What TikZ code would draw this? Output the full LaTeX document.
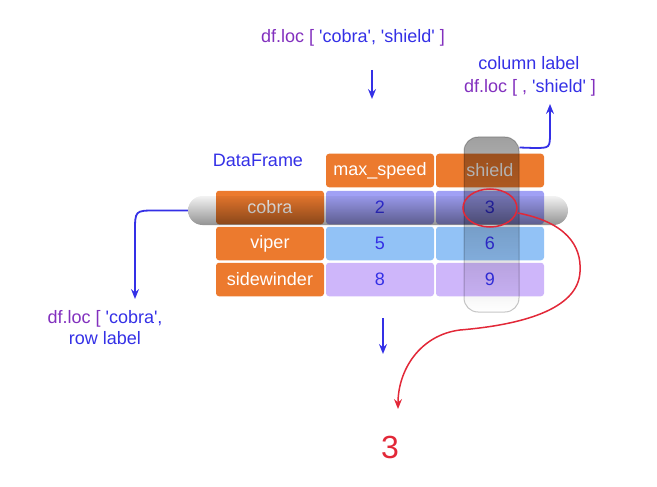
\documentclass[tikz,border=0pt]{standalone}
\usepackage{fontspec}
\setmainfont{Liberation Sans}
\usetikzlibrary{arrows.meta,shapes.geometric}

\definecolor{hdrorange}{RGB}{236,122,46}
\definecolor{cobrablue}{RGB}{160,160,245}
\definecolor{viperblue}{RGB}{146,194,246}
\definecolor{sidepurple}{RGB}{206,182,250}
\definecolor{txtblue}{RGB}{52,48,230}
\definecolor{txtpurple}{RGB}{130,48,190}
\definecolor{pickred}{RGB}{226,40,56}

\newcommand{\qt}{\textquotesingle}

\begin{document}
\begin{tikzpicture}[x=1pt,y=-1pt,
  every node/.style={font=\fontsize{18}{21}\selectfont},
  cell/.style={rounded corners=3pt,minimum width=108pt,minimum height=33.5pt,inner sep=0pt},
  idxcell/.style={cell,fill=hdrorange,text=white},
  valcell/.style={cell,text=txtblue},
  bluearrow/.style={draw=txtblue,line width=1.8pt,-{Stealth[length=10pt,width=8pt,inset=3.5pt]}},
  redarrow/.style={draw=pickred,line width=1.5pt,-{Stealth[length=10pt,width=8pt,inset=3.5pt]}}]

  \useasboundingbox (0,0) rectangle (657,487);

  % the table
  \node[idxcell] (Cobra) at (270,207.5) {cobra};
  \node[idxcell] (Viper) [node distance=36pt, below of=Cobra] {viper};
  \node[idxcell] (Sidewinder) [node distance=36pt, below of=Viper] {sidewinder};

  \node[idxcell] (MaxSpeed) at (380,170.5) {max\_speed};
  \node[idxcell] (Shield) [node distance=110pt, right of=MaxSpeed] {shield};

  \node[valcell,fill=cobrablue] (C2) [node distance=110pt, right of=Cobra] {2};
  \node[valcell,fill=cobrablue] (C3) [node distance=110pt, right of=C2] {3};
  \node[valcell,fill=viperblue] (V5) [node distance=110pt, right of=Viper] {5};
  \node[valcell,fill=viperblue] (V6) [node distance=110pt, right of=V5] {6};
  \node[valcell,fill=sidepurple] (S8) [node distance=110pt, right of=Sidewinder] {8};
  \node[valcell,fill=sidepurple] (S9) [node distance=110pt, right of=S8] {9};

  \node[text=txtblue] (DataFrame) at (258,160) {DataFrame};

  % the two selections
  \begin{scope}[blend mode=multiply]
    \node[rounded corners=14.5pt,minimum width=380pt,minimum height=29pt,inner sep=0pt,
      top color=gray!10,bottom color=gray!85] (RowPill) at (378,210.5) {};
    \node[rounded corners=14pt,minimum width=55pt,minimum height=175pt,inner sep=0pt,
      top color=gray!75,bottom color=white,draw=gray!45,line width=1pt] (ColPill) at (491.5,224.5) {};
  \end{scope}

  \node[draw=pickred,line width=1.5pt,ellipse,minimum width=54pt,minimum height=38pt] (Pick) at (490,208) {};

  % labels
  \node (TopLabel) at (353,38) {\textcolor{txtpurple}{df.loc [} \textcolor{txtblue}{\qt cobra\qt, \qt shield\qt} \textcolor{txtpurple}{]}};
  \node[text=txtblue] (ColTitle) at (529,63) {column label};
  \node (ColLabel) at (530,88) {\textcolor{txtpurple}{df.loc [ ,} \textcolor{txtblue}{\qt shield\qt} \textcolor{txtpurple}{]}};
  \node[align=center,text=txtblue] (RowLabel) at (105,327.5) {\textcolor{txtpurple}{df.loc [} \qt cobra\qt,\\row label};
  \node[text=pickred,font=\fontsize{32}{36}\selectfont] (Result) at (390,447) {3};

  \coordinate (TopTail) at (372,70);
  \coordinate (TopTip) at (372,99);
  \coordinate (MidTail) at (383,318);
  \coordinate (MidTip) at (383,354);
  \coordinate (RowTip) at (135,299);
  \coordinate (ColTip) at (550,104);
  \coordinate (PickTip) at (398,409);

  % connectors
  \draw[bluearrow] (TopTail) -- (TopTip);
  \draw[bluearrow] (MidTail) -- (MidTip);
  \draw[bluearrow] (RowPill.west) -- (156,210.5) .. controls (135,210.5) .. (135,232) -- (RowTip);
  \draw[bluearrow] ([yshift=-11pt]ColPill.north east) -- (534,148) .. controls (550,148) .. (550,132) -- (ColTip);
  \draw[redarrow] (Pick.east |- 0,213) .. controls (565,222) and (582,245) .. (580,272)
    .. controls (578,310) and (520,325) .. (460,330)
    .. controls (420,335) and (398,370) .. (PickTip);

\end{tikzpicture}
\end{document}
